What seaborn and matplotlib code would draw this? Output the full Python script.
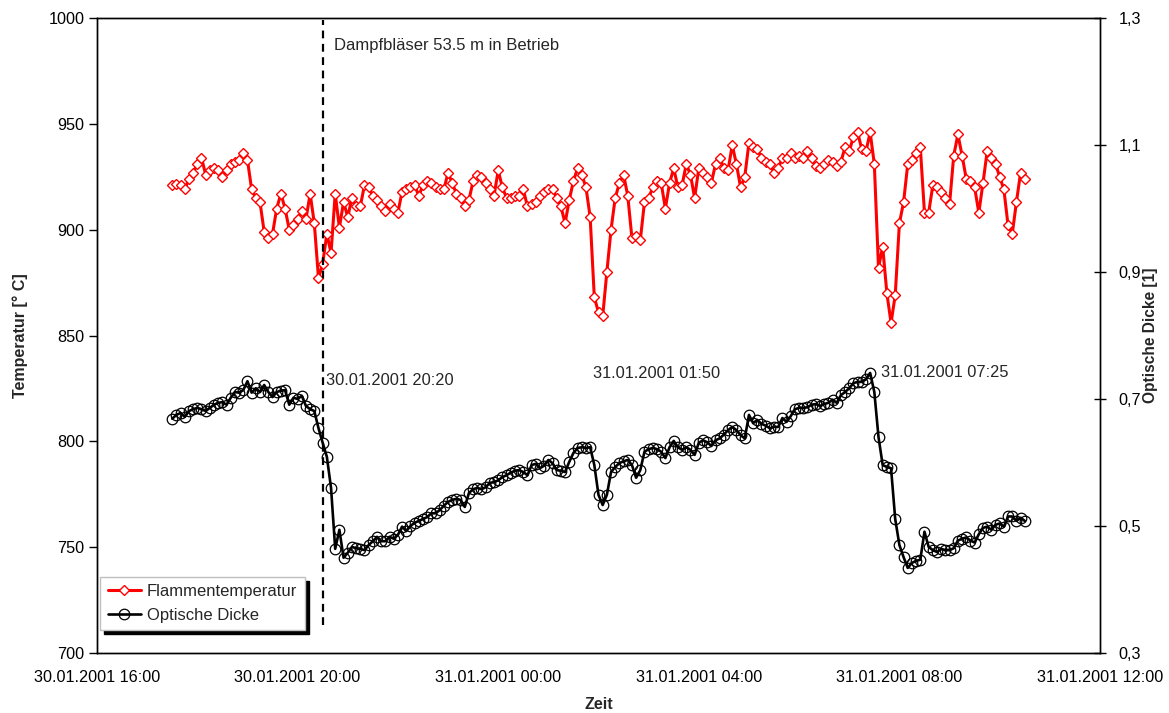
import numpy as np
import pandas as pd
import matplotlib
matplotlib.use("Agg")
import matplotlib.pyplot as plt
import matplotlib.dates as mdates
from matplotlib.ticker import FuncFormatter
import seaborn as sns

# ---------------- data ----------------
start_time = "2001-01-30 17:30"
step = "5min"

flammentemperatur = [
    921, 921.5, 921, 919, 924, 927, 931, 934, 926, 928,
    929, 928, 925, 928, 931, 932, 933, 936, 933, 919,
    915, 913, 899, 896, 898, 910, 917, 910, 900, 902,
    905, 909, 905, 917, 903, 877, 884, 898, 889, 917,
    901, 913, 906, 915, 911, 911, 921, 920, 916, 914,
    911, 909, 912, 910, 908, 918, 919, 920, 921, 916,
    921, 923, 922, 920, 919, 919, 927, 922, 917, 915,
    911, 914, 923, 926, 925, 922, 919, 916, 928, 920,
    915, 915, 916, 916, 919, 911, 912, 913, 916, 918,
    919, 919, 915, 911, 903, 914, 923, 929, 926, 920,
    906, 868, 861, 859, 880, 900, 915, 922, 926, 916,
    896, 897, 895, 913, 915, 920, 923, 922, 910, 922,
    929, 920, 921, 931, 926, 915, 929, 927, 925, 922,
    931, 934, 929, 928, 940, 931, 920, 925, 941, 939,
    938, 934, 932, 931, 927, 929, 934, 934, 936, 934,
    935, 934, 937, 934, 930, 929, 931, 933, 932, 930,
    932, 939, 937, 944, 946, 938, 937, 946, 931, 882,
    892, 870, 856, 869, 903, 913, 931, 933, 936, 939,
    908, 908, 921, 920, 918, 915, 912, 935, 945, 935,
    924, 923, 920, 908, 922, 937, 934, 931, 925, 919,
    902, 898, 913, 927, 924,
]

optische_dicke = [
    .669, .675, .678, .672, .681, .684, .686, .684, .681, .686,
    .691, .694, .695, .691, .702, .711, .710, .714, .728, .710,
    .717, .711, .722, .711, .703, .711, .713, .714, .691, .702,
    .700, .705, .689, .684, .681, .654, .631, .609, .560, .464,
    .494, .450, .458, .467, .465, .464, .462, .470, .476, .483,
    .476, .476, .483, .480, .486, .499, .492, .500, .505, .508,
    .511, .514, .520, .520, .525, .532, .538, .541, .543, .541,
    .530, .552, .558, .560, .558, .561, .568, .569, .572, .577,
    .580, .584, .587, .588, .585, .580, .596, .598, .591, .595,
    .604, .599, .588, .587, .585, .601, .615, .623, .624, .623,
    .624, .596, .549, .533, .549, .585, .593, .599, .602, .604,
    .596, .576, .588, .617, .621, .623, .621, .617, .607, .624,
    .634, .624, .620, .624, .620, .612, .631, .635, .632, .626,
    .635, .638, .644, .651, .656, .651, .643, .638, .675, .662,
    .667, .661, .658, .654, .656, .656, .670, .664, .673, .684,
    .686, .686, .687, .691, .692, .689, .692, .694, .699, .694,
    .706, .711, .717, .725, .727, .727, .731, .741, .711, .640,
    .596, .593, .591, .511, .470, .451, .434, .442, .445, .447,
    .491, .467, .462, .459, .464, .462, .462, .465, .477, .480,
    .482, .477, .474, .487, .497, .499, .494, .502, .504, .499,
    .515, .515, .508, .513, .508,
]

series_labels = ["Flammentemperatur", "Optische Dicke"]
annot_times = ["2001-01-30 20:20", "2001-01-31 01:50", "2001-01-31 07:25"]
annot_texts = ["30.01.2001 20:20", "31.01.2001 01:50", "31.01.2001 07:25"]
event_time = "2001-01-30 20:30"
event_text = "Dampfbläser 53.5 m in Betrieb"

x_range = ("2001-01-30 16:00", "2001-01-31 12:00")
temp_ticks = [700, 750, 800, 850, 900, 950, 1000]
od_ticks = [0.3, 0.5, 0.7, 0.9, 1.1, 1.3]

times = pd.date_range(start_time, periods=len(flammentemperatur), freq=step)
df = pd.DataFrame({"Zeit": times,
                   "T": flammentemperatur,
                   "OD": optische_dicke})

# ---------------- plot ----------------
sns.set_style("white")
plt.rcParams["font.family"] = ["Liberation Sans", "DejaVu Sans"]

fig = plt.figure(figsize=(11.69, 7.13), dpi=100)
ax = fig.add_axes([97 / 1169, 1 - 653 / 713, (1100 - 97) / 1169, (653 - 18) / 713])
ax2 = ax.twinx()

sns.lineplot(data=df, x="Zeit", y="T", ax=ax, color="#ff0000", lw=2.2,
             marker="D", markersize=4.8, markerfacecolor="white",
             markeredgecolor="#ff0000", markeredgewidth=1.0,
             label=series_labels[0], legend=False)
sns.lineplot(data=df, x="Zeit", y="OD", ax=ax2, color="black", lw=1.9,
             marker="o", markersize=7.6, markerfacecolor="none",
             markeredgecolor="black", markeredgewidth=0.9,
             label=series_labels[1], legend=False)

ax.set_xlim(pd.Timestamp(x_range[0]), pd.Timestamp(x_range[1]))
ax.set_ylim(700, 1000)
ax2.set_ylim(0.3, 1.3)
ax.set_yticks(temp_ticks)
ax2.set_yticks(od_ticks)
ax2.yaxis.set_major_formatter(FuncFormatter(lambda v, p: f"{v:.1f}".replace(".", ",")))
ax.xaxis.set_major_locator(mdates.HourLocator(byhour=[0, 4, 8, 12, 16, 20]))
ax.xaxis.set_major_formatter(mdates.DateFormatter("%d.%m.%Y %H:%M"))

for a in (ax, ax2):
    for s in a.spines.values():
        s.set_color("black")
        s.set_linewidth(1.0)
ax.tick_params(axis="y", direction="out", length=6, width=1, labelsize=11.7,
               colors="black", pad=3)
ax.tick_params(axis="x", direction="out", length=5, width=1, labelsize=11.7,
               colors="black", pad=7)
ax2.tick_params(axis="y", direction="inout", length=9, width=1, labelsize=11.7,
                colors="black", pad=9)

ax.set_xlabel("Zeit", fontsize=11.5, fontweight="bold", labelpad=9)
ax.set_ylabel("Temperatur [° C]", fontsize=11.5, fontweight="bold", labelpad=15)
ax2.set_ylabel("Optische Dicke [1]", fontsize=11.2, fontweight="bold",
               rotation=90, ha="center", va="center")
ax2.yaxis.set_label_coords(1.0508, 0.5)
ax.grid(False)
ax2.grid(False)

# event line
et = pd.Timestamp(event_time)
ax.plot([et, et], [713, 999], color="black", lw=1.6, ls=(0, (3.5, 2.5)))
ax.text(et + pd.Timedelta(minutes=14), 987, event_text, fontsize=12, va="center", ha="left")

# annotations of optical thickness
offsets = [(12, 31), (3, 74), (11, 0)]
for t, txt, off in zip(annot_times, annot_texts, offsets):
    tt = pd.Timestamp(t)
    v = df.loc[df["Zeit"] == tt, "OD"].iloc[0]
    ax2.annotate(txt, xy=(tt, v), xytext=off, textcoords="offset pixels",
                 fontsize=11.8, va="center", ha="left")

h1, l1 = ax.get_legend_handles_labels()
h2, l2 = ax2.get_legend_handles_labels()
leg = ax2.legend(h1 + h2, l1 + l2, loc="lower left", bbox_to_anchor=(0.003, 0.036),
                 borderaxespad=0, frameon=True, fancybox=False, fontsize=12,
                 handlelength=2.0, borderpad=0.45, labelspacing=0.5, handletextpad=0.35,
                 shadow={"color": "black", "alpha": 1.0, "ox": 3, "oy": -3})
leg.get_frame().set_edgecolor("#c0c0c0")
leg.get_frame().set_linewidth(1.0)

fig.savefig("out.png", dpi=100)
